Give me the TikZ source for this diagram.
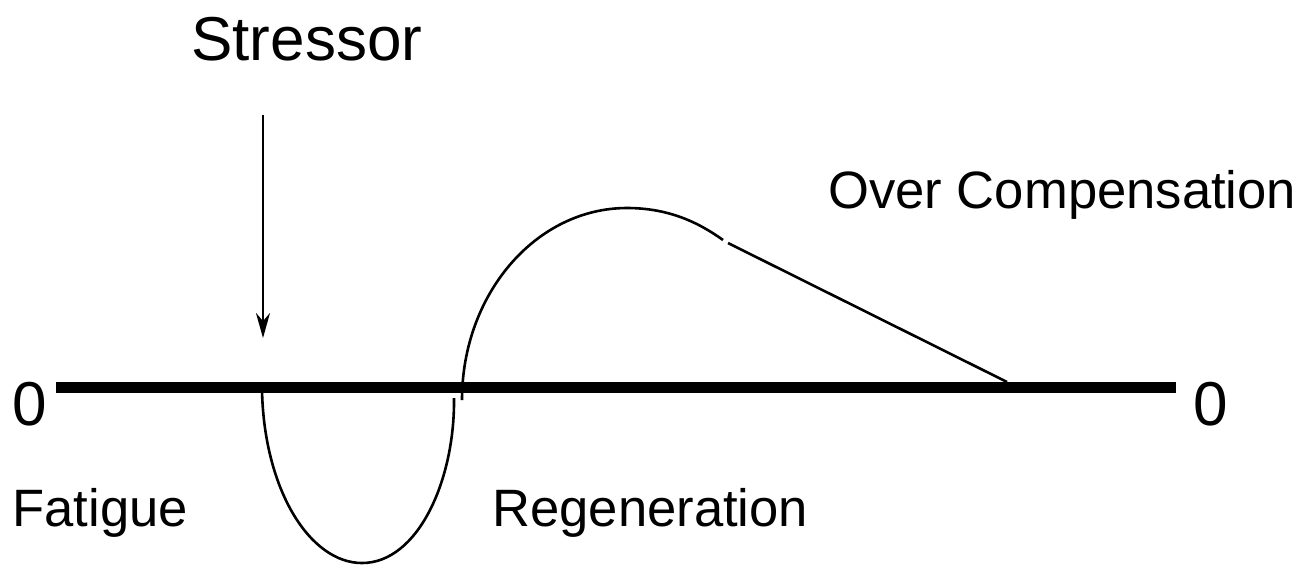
\documentclass[tikz,border=0pt]{standalone}
\usepackage{fontspec}
\setmainfont{Liberation Sans}
\usetikzlibrary{arrows.meta}
\tikzset{
  bigtxt/.style={inner sep=0pt, anchor=base west, font=\fontsize{31}{37}\selectfont},
  smalltxt/.style={inner sep=0pt, anchor=base west, font=\fontsize{26.3}{31}\selectfont},
  axisline/.style={line width=5.5pt},
  curveline/.style={line width=1.3pt},
  stressarrow/.style={line width=1.3pt, -{Stealth[length=12.5pt,width=7pt,inset=4pt]}}
}
\begin{document}
\begin{tikzpicture}[x=0.5pt,y=-0.5pt]
\useasboundingbox (0,0) rectangle (1307,570);
% texts
\node[bigtxt] (stressor) at (191,60) {Stressor};
\node[smalltxt] (over) at (828,208) {Over Compensation};
\node[bigtxt] (zl) at (12,425) {0};
\node[bigtxt] (zr) at (1193,425) {0};
\node[smalltxt] (fatigue) at (12,526) {Fatigue};
\node[smalltxt] (regen) at (492,526) {Regeneration};
% axis
\coordinate (axl) at (56,387);
\coordinate (axr) at (1176,387);
\draw[axisline] (axl) -- (axr);
% stressor arrow
\coordinate (as) at (263,115);
\coordinate (ae) at (263,338);
\draw[stressarrow] (as) -- (ae);
% dip (fatigue)
\coordinate (d0) at (262,390);
\coordinate (dbot) at (362,563);
\coordinate (d1) at (454,398);
\draw[curveline] (d0) .. controls (264,490) and (310,563) .. (dbot)
  .. controls (418,563) and (455,480) .. (d1);
% hump (over compensation)
\coordinate (h0) at (462,400);
\coordinate (htop) at (627,208);
\coordinate (h1) at (723,240);
\coordinate (l0) at (728,243);
\coordinate (l1) at (1007,382);
\draw[curveline] (h0) .. controls (462,294) and (536,208) .. (htop)
  .. controls (668,208) and (698,222) .. (h1);
\draw[curveline] (l0) -- (l1);
\end{tikzpicture}
\end{document}
